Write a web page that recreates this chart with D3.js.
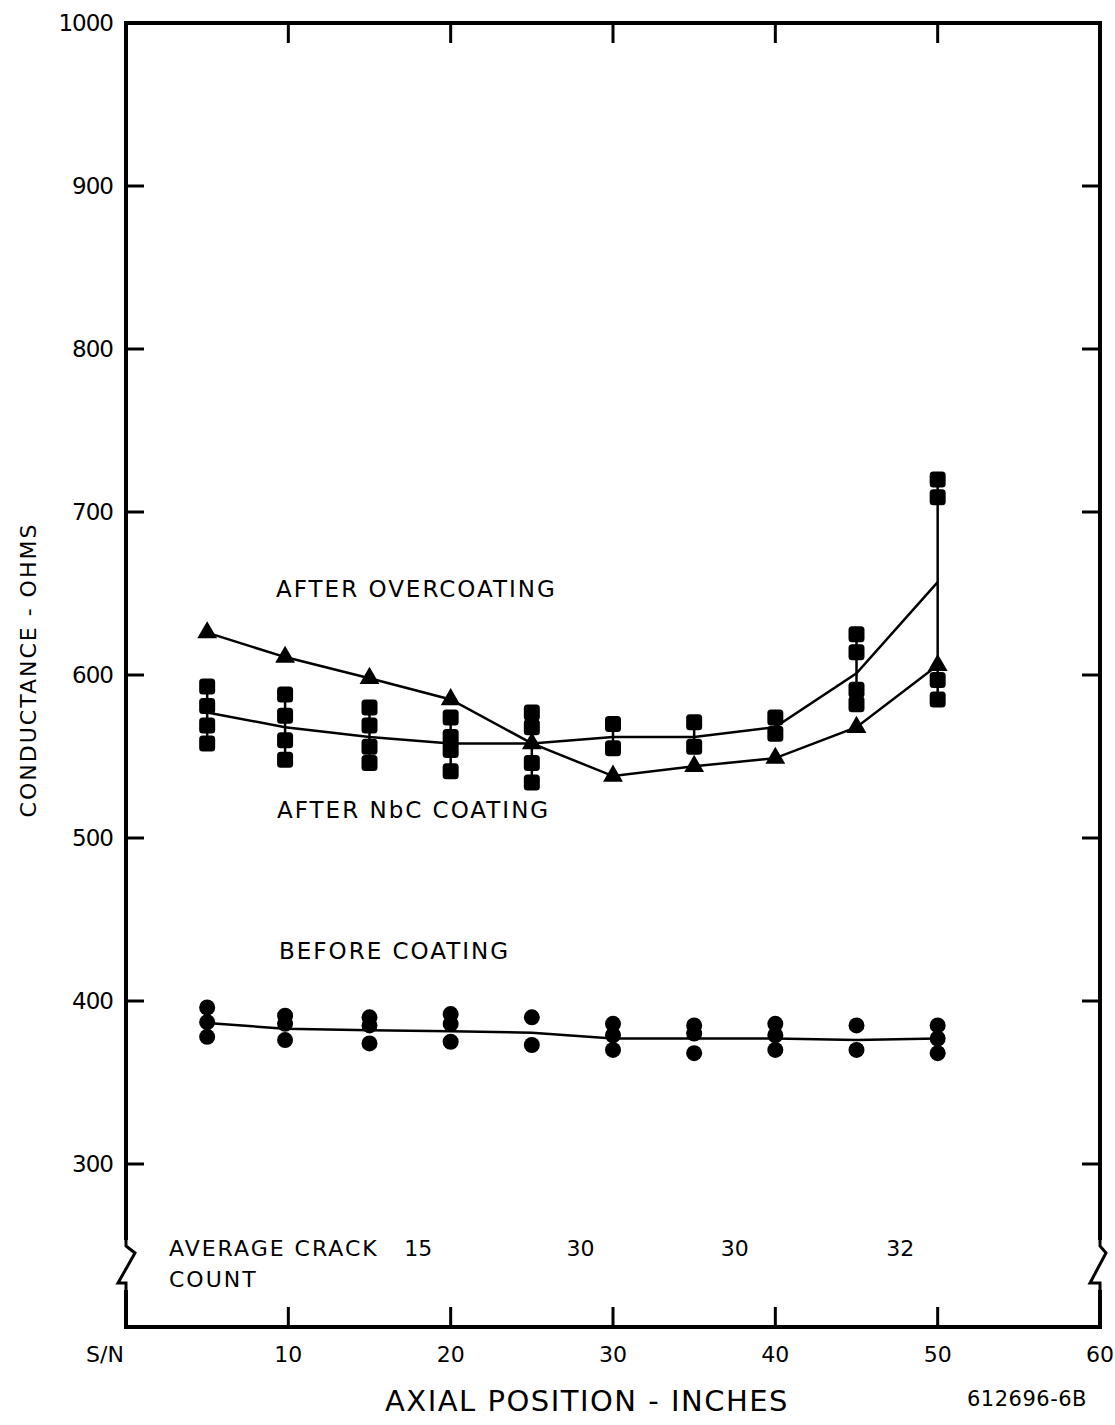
<!DOCTYPE html>
<html><head><meta charset="utf-8">
<script src="https://cdn.jsdelivr.net/npm/d3@7"></script>
<style>body{margin:0;background:#fff}svg{display:block}text{font-family:"DejaVu Sans",sans-serif;fill:#000}</style>
</head><body><div id="c"></div>
<script>
// ---- data ----
const positions = [5, 9.8, 15, 20, 25, 30, 35, 40, 45, 50];
// Triangles (top-left line)
const triangleValues = [626, 611, 598, 585, 558, 538, 544, 549, 568, 606];
// Squares: mean line and individual readings
const squareMean = [577, 568, 562, 558, 558, 562, 562, 568, 601, 657];
const squarePoints = [
  [593, 581, 569, 558],
  [588, 575, 560, 548],
  [580, 569, 556, 546],
  [574, 562, 554, 541],
  [577, 568, 546, 534],
  [570, 555],
  [571, 556],
  [574, 564],
  [625, 614, 591, 582],
  [720, 709, 597, 585]
];
// Circles (before coating)
const circleMean = [386.5, 383, 382, 381.5, 380.5, 377, 377, 377, 376, 377];
const circlePoints = [
  [396, 387, 378],
  [391, 386, 376],
  [390, 385, 374],
  [392, 386, 375],
  [390, 373],
  [386, 379, 370],
  [385, 380, 368],
  [386, 379, 370],
  [385, 370],
  [385, 377, 368]
];
const yTicks = [300, 400, 500, 600, 700, 800, 900, 1000];
const xTicks = [10, 20, 30, 40, 50, 60];
const crackPositions = [18, 28, 37.5, 47.7];
const crackCounts = ["15", "30", "30", "32"];
const seriesLabels = ["AFTER OVERCOATING", "AFTER NbC COATING", "BEFORE COATING"];

// ---- chart ----
const W = 1115, H = 1425;
const svg = d3.select("#c").append("svg").attr("width", W).attr("height", H);
const x = d3.scaleLinear().domain([0, 60]).range([126, 1100]);
const y = d3.scaleLinear().domain([200, 1000]).range([1327, 23]);
const X0 = x(0), X1 = x(60), Y0 = y(200), Y1 = y(1000);

// frame with breaks
const frame = svg.append("g").attr("fill", "none").attr("stroke", "#000").attr("stroke-width", 4).attr("stroke-linejoin", "miter");
const bTop = 1240, bBot = 1290;
frame.append("path").attr("d",
  `M${X0},${bBot} L${X0},${Y0} L${X1},${Y0} L${X1},${bBot}`);
frame.append("path").attr("d",
  `M${X0},${bTop} L${X0},${Y1} L${X1},${Y1} L${X1},${bTop}`);
// zigzag breaks
const zig = svg.append("g").attr("fill", "none").attr("stroke", "#000").attr("stroke-width", 3);
zig.append("path").attr("d", `M${X0},${bTop} L${X0},${bTop+6} L${X0+9},${bTop+13} L${X0-8},${bBot-7} L${X0},${bBot-7} L${X0},${bBot}`);
zig.append("path").attr("d", `M${X1},${bTop} L${X1},${bTop+6} L${X1+6},${bTop+13} L${X1-10},${bBot-7} L${X1},${bBot-7} L${X1},${bBot}`);

// ticks
const tk = svg.append("g").attr("stroke", "#000").attr("stroke-width", 3);
yTicks.forEach(v => {
  if (v === 1000) return;
  tk.append("line").attr("x1", X0).attr("x2", X0 + 18).attr("y1", y(v)).attr("y2", y(v));
  tk.append("line").attr("x1", X1).attr("x2", X1 - 18).attr("y1", y(v)).attr("y2", y(v));
});
xTicks.forEach(v => {
  if (v === 60) return;
  tk.append("line").attr("x1", x(v)).attr("x2", x(v)).attr("y1", Y0).attr("y2", Y0 - 20);
  tk.append("line").attr("x1", x(v)).attr("x2", x(v)).attr("y1", Y1).attr("y2", Y1 + 20);
});

// tick labels
svg.append("g").selectAll("text").data(yTicks).join("text")
  .attr("x", 113).attr("y", d => y(d) + 8).attr("text-anchor", "end")
  .attr("font-size", 23).attr("letter-spacing", -1).text(d => d);
svg.append("g").selectAll("text").data(xTicks).join("text")
  .attr("x", d => x(d)).attr("y", Y0 + 35).attr("text-anchor", "middle")
  .attr("font-size", 22).text(d => d);
svg.append("text").attr("x", 105).attr("y", Y0 + 35).attr("text-anchor", "middle")
  .attr("font-size", 22).text("S/N");

// axis titles
svg.append("text").attr("transform", `translate(36,670) rotate(-90)`)
  .attr("text-anchor", "middle").attr("font-size", 22).attr("letter-spacing", 2).text("CONDUCTANCE - OHMS");
svg.append("text").attr("x", 587).attr("y", 1411).attr("text-anchor", "middle")
  .attr("font-size", 29).attr("letter-spacing", 1.5).text("AXIAL POSITION - INCHES");
svg.append("text").attr("x", 1027).attr("y", 1406).attr("text-anchor", "middle")
  .attr("font-size", 21).attr("letter-spacing", 0.5).text("612696-6B");

// crack count
svg.append("text").attr("x", 169).attr("y", 1256).attr("font-size", 22).attr("letter-spacing", 2).text("AVERAGE CRACK");
svg.append("text").attr("x", 169).attr("y", 1287).attr("font-size", 22).attr("letter-spacing", 2).text("COUNT");
svg.append("g").selectAll("text").data(crackCounts).join("text")
  .attr("x", (d, i) => x(crackPositions[i])).attr("y", 1256).attr("text-anchor", "middle")
  .attr("font-size", 22).text(d => d);

// series labels
const labelPos = [[276, 597], [277, 818], [279, 959]];
seriesLabels.forEach((t, i) => {
  svg.append("text").attr("x", labelPos[i][0]).attr("y", labelPos[i][1])
    .attr("font-size", 23).attr("letter-spacing", 2).text(t);
});

// lines
const line = d3.line().x(d => x(d[0])).y(d => y(d[1]));
const lines = svg.append("g").attr("fill", "none").attr("stroke", "#000").attr("stroke-width", 2.5);
lines.append("path").attr("d", line(positions.map((p, i) => [p, triangleValues[i]])));
lines.append("path").attr("d", line(positions.map((p, i) => [p, squareMean[i]])));
lines.append("path").attr("d", line(positions.map((p, i) => [p, circleMean[i]])));
// square range lines
positions.forEach((p, i) => {
  const ext = d3.extent(squarePoints[i]);
  lines.append("line").attr("x1", x(p)).attr("x2", x(p)).attr("y1", y(ext[0])).attr("y2", y(ext[1]));
});

// markers
const mk = svg.append("g").attr("fill", "#000");
positions.forEach((p, i) => {
  squarePoints[i].forEach(v => {
    mk.append("rect").attr("x", x(p) - 8).attr("y", y(v) - 8).attr("width", 16).attr("height", 16).attr("rx", 3.5);
  });
  circlePoints[i].forEach(v => {
    mk.append("circle").attr("cx", x(p)).attr("cy", y(v)).attr("r", 8);
  });
  mk.append("path").attr("transform", `translate(${x(p)},${y(triangleValues[i])})`)
    .attr("d", d3.symbol(d3.symbolTriangle, 170)());
});
</script></body></html>
